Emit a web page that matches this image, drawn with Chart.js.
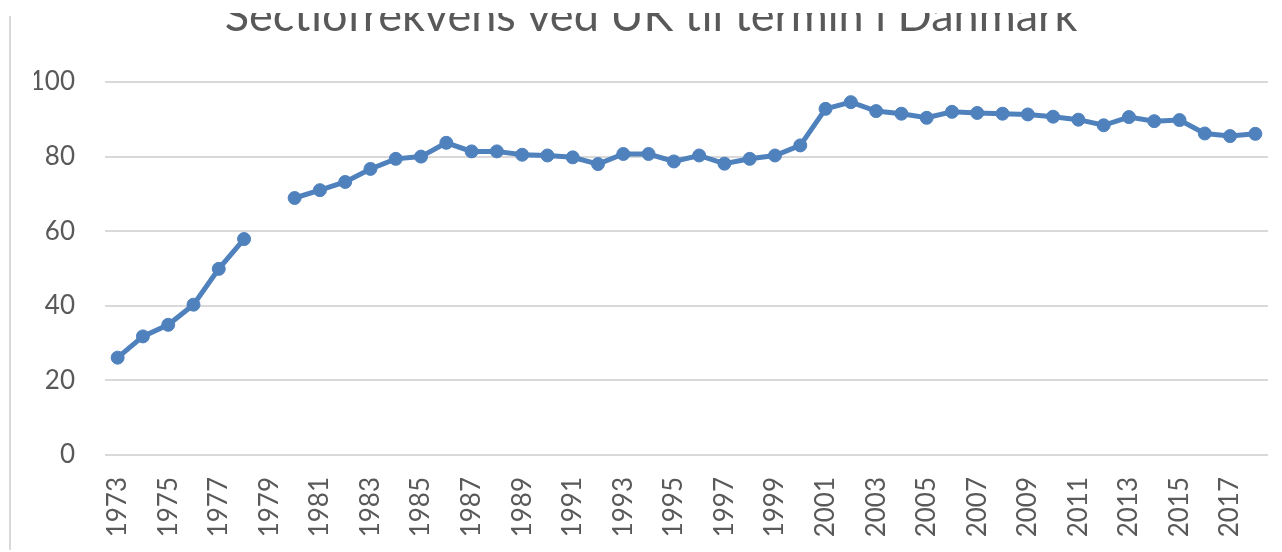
<!DOCTYPE html>
<html><head><meta charset="utf-8">
<script src="https://cdn.jsdelivr.net/npm/chart.js@4.4.0/dist/chart.umd.min.js"></script>
<style>
html,body{margin:0;padding:0;background:#fff;width:1282px;height:552px;overflow:hidden;}
#clip{position:absolute;left:0;top:13px;width:1282px;height:539px;overflow:hidden;}
#wrap{position:absolute;left:0;top:-13px;width:1282px;height:552px;}
#frame{position:absolute;left:9px;top:16px;width:2px;height:534px;background:#d9d9d9;}
</style></head><body>
<div id="clip"><div id="wrap"><canvas id="c" width="1282" height="552"></canvas></div></div>
<div id="frame"></div>
<script>
const titleText = 'Sectiofrekvens ved UK til termin i Danmark';
const years = ['1973','1974','1975','1976','1977','1978','1979','1980','1981','1982',
  '1983','1984','1985','1986','1987','1988','1989','1990','1991','1992',
  '1993','1994','1995','1996','1997','1998','1999','2000','2001','2002',
  '2003','2004','2005','2006','2007','2008','2009','2010','2011','2012',
  '2013','2014','2015','2016','2017','2018'];
const rates = [26.1, 31.8, 34.9, 40.3, 49.9, 57.9, null, 68.9, 71.0, 73.2,
  76.7, 79.4, 80.0, 83.7, 81.4, 81.4, 80.5, 80.3, 79.8, 78.0,
  80.7, 80.7, 78.7, 80.3, 78.1, 79.4, 80.3, 83.0, 92.8, 94.6,
  92.2, 91.5, 90.4, 92.0, 91.7, 91.5, 91.3, 90.7, 89.9, 88.4,
  90.6, 89.5, 89.8, 86.2, 85.5, 86.1];
const yMin = 0, yMax = 100, yStep = 20;

const FONT = 'Lato';
const GREY = '#595959';
const BLUE = '#4f81bd';

// title size chosen so the text spans ~858px like the reference
const mctx = document.createElement('canvas').getContext('2d');
mctx.font = '100px ' + FONT;
const TS = Math.round(100 * 858 / mctx.measureText(titleText).width);
const titleMid = 30 - 0.3 * TS;
const padTop = titleMid - 0.6 * TS;
const padBottom = 82 - (padTop + 1.2 * TS);

new Chart(document.getElementById('c'), {
  type: 'line',
  data: {
    labels: years,
    datasets: [{
      data: rates,
      borderColor: BLUE,
      backgroundColor: BLUE,
      borderWidth: 5,
      pointRadius: 6.5,
      pointBorderWidth: 1,
      pointBackgroundColor: BLUE,
      pointBorderColor: BLUE,
      spanGaps: false,
      tension: 0
    }]
  },
  options: {
    responsive: false,
    animation: false,
    devicePixelRatio: 1,
    layout: { padding: { left: 34, right: 14, top: 0, bottom: 0 } },
    plugins: {
      legend: { display: false },
      tooltip: { enabled: false },
      title: {
        display: true, text: titleText, color: GREY,
        font: { family: FONT, size: TS, weight: 'normal', lineHeight: 1.2 },
        padding: { top: padTop, bottom: padBottom }
      }
    },
    scales: {
      x: {
        type: 'category', offset: true,
        grid: { display: false, drawTicks: false },
        border: { display: false },
        ticks: {
          autoSkip: false, maxRotation: 90, minRotation: 90, padding: 22,
          color: GREY, font: { family: FONT, size: 26 },
          callback: (v, i) => (i % 2 === 0 ? years[i] : '')
        },
        afterFit: s => { s.height = 97; s.paddingLeft = 0; s.paddingRight = 0; }
      },
      y: {
        min: yMin, max: yMax,
        grid: { color: '#d9d9d9', lineWidth: 2, drawTicks: false },
        border: { display: false },
        ticks: { stepSize: yStep, padding: 30, color: GREY, font: { family: FONT, size: 26 } },
        afterFit: s => { s.width = 71; }
      }
    }
  }
});
</script>
</body></html>
